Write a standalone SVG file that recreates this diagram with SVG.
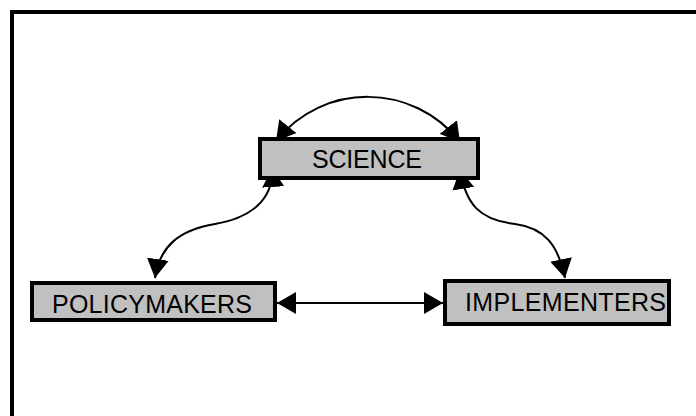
<svg xmlns="http://www.w3.org/2000/svg" width="696" height="416" viewBox="0 0 696 416">
  <style>
    .box { fill: #c0c0c0; stroke: #000; stroke-width: 4; }
    .label { font-family: "Liberation Sans", Arial, sans-serif; font-size: 25px; fill: #000; }
    .link { fill: none; stroke: #000; stroke-width: 2; marker-start: url(#head); marker-end: url(#head); }
  </style>
  <defs>
    <marker id="head" markerUnits="userSpaceOnUse" viewBox="0 0 19 22" markerWidth="19" markerHeight="22" refX="19" refY="11" orient="auto-start-reverse">
      <path d="M0,0 L19,11 L0,22 z" fill="#000"/>
    </marker>
  </defs>

  <rect width="696" height="416" fill="#fff"/>
  <!-- outer frame, running off the right and bottom edges -->
  <rect x="12" y="12" width="700" height="420" fill="none" stroke="#000" stroke-width="4"/>

  <g id="connectors">
    <path class="link" d="M276,141 C323,82 413,82 460,142"/>
    <path class="link" d="M272,168 C274,200 250,218 215,224 C180,230 160,245 155,278"/>
    <path class="link" d="M460,170 C466,205 480,220 515,224 C545,228 558,245 565,278"/>
    <path class="link" d="M277,303 L443,303"/>
  </g>

  <g id="science">
    <rect class="box" x="260" y="139" width="218" height="39"/>
    <text class="label" x="312" y="168" textLength="110" lengthAdjust="spacing">SCIENCE</text>
  </g>
  <g id="policymakers">
    <rect class="box" x="32" y="283" width="243" height="37"/>
    <text class="label" x="52" y="313" textLength="200" lengthAdjust="spacing">POLICYMAKERS</text>
  </g>
  <g id="implementers">
    <rect class="box" x="445" y="281" width="224" height="43"/>
    <text class="label" x="465" y="311" textLength="201" lengthAdjust="spacing">IMPLEMENTERS</text>
  </g>
</svg>
